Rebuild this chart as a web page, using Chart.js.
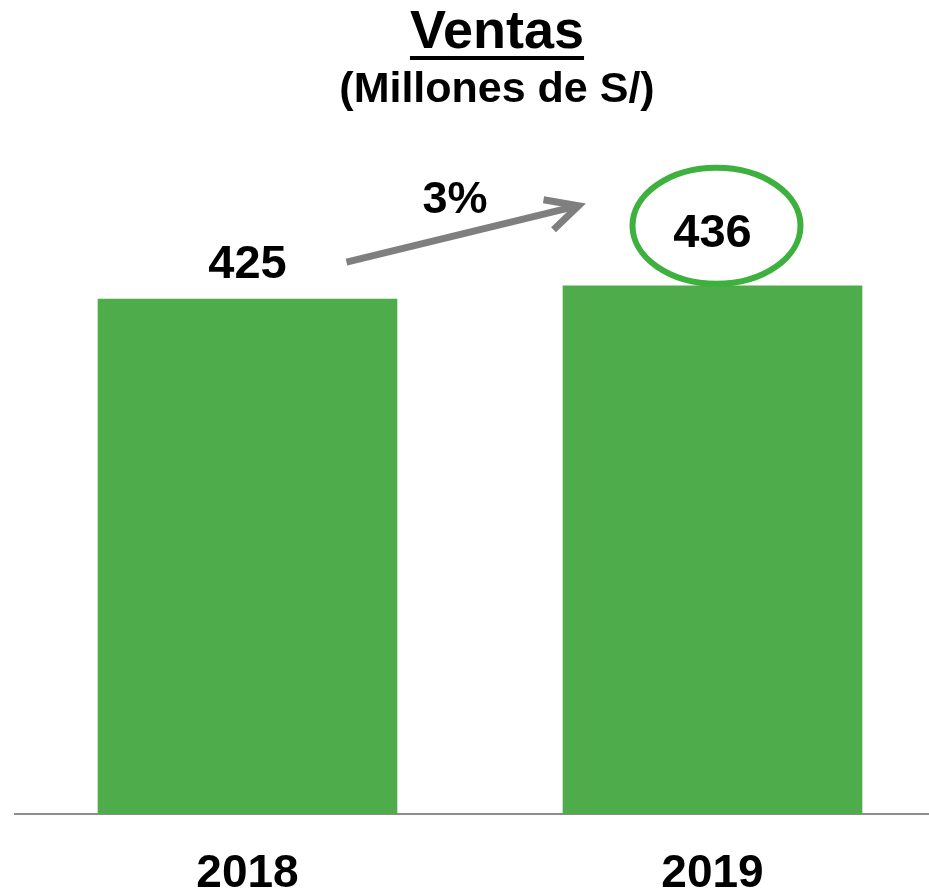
<!DOCTYPE html>
<html lang="es">
<head>
<meta charset="utf-8">
<title>Ventas</title>
<script src="https://cdn.jsdelivr.net/npm/chart.js@4"></script>
<style>
  html, body { margin: 0; padding: 0; background: #fff; overflow: hidden; }
  canvas { display: block; }
</style>
</head>
<body>
<canvas id="ventas" width="946" height="894"></canvas>
<script>
const years = ["2018", "2019"];
const sales = [425, 436];
const growthLabel = "3%";
const titleText = "Ventas";
const subtitleText = "(Millones de S/)";

const FONT = "'Liberation Sans', Arial, sans-serif";
const barGreen = "#4EAC4A";
const ringGreen = "#3DB03D";
const arrowGray = "#7F7F7F";

// title, value labels, growth arrow and the ring around the last value
const decorations = {
  id: "decorations",
  afterDatasetsDraw(chart) {
    const ctx = chart.ctx;
    const bars = chart.getDatasetMeta(0).data;
    ctx.save();
    ctx.fillStyle = "#000";
    ctx.textAlign = "center";
    ctx.textBaseline = "alphabetic";

    // title + underline
    ctx.font = "bold 54px " + FONT;
    ctx.fillText(titleText, 497, 48);
    const tw = ctx.measureText(titleText).width;
    ctx.fillRect(497 - tw / 2, 56, tw, 4);

    ctx.font = "bold 43px " + FONT;
    ctx.fillText(subtitleText, 497, 102);

    // value labels above bars
    ctx.font = "bold 47px " + FONT;
    const lift = [21, 39];
    bars.forEach((bar, i) => {
      ctx.fillText(String(sales[i]), bar.x, bar.y - lift[i]);
    });

    // ring around the latest value
    const last = bars[bars.length - 1];
    ctx.strokeStyle = ringGreen;
    ctx.lineWidth = 6;
    ctx.beginPath();
    ctx.ellipse(last.x + 4, last.y - 60, 84, 58, 0, 0, Math.PI * 2);
    ctx.stroke();

    // growth arrow
    const first = bars[0];
    const x0 = first.x + 99, y0 = first.y - 37;
    const x1 = last.x - 134, y1 = last.y - 80;
    ctx.strokeStyle = arrowGray;
    ctx.lineWidth = 7;
    ctx.lineCap = "butt";
    ctx.beginPath();
    ctx.moveTo(x0, y0);
    ctx.lineTo(x1 - 4, y1 + 1);
    ctx.stroke();
    ctx.lineJoin = "miter";
    ctx.beginPath();
    ctx.moveTo(x1 - 35, y1 - 6);
    ctx.lineTo(x1, y1);
    ctx.lineTo(x1 - 25, y1 + 24);
    ctx.stroke();

    ctx.fillStyle = "#000";
    ctx.font = "bold 45px " + FONT;
    ctx.fillText(growthLabel, 455, 213);
    ctx.restore();
  }
};

new Chart(document.getElementById("ventas"), {
  type: "bar",
  data: {
    labels: years,
    datasets: [{
      data: sales,
      backgroundColor: barGreen,
      borderWidth: 0,
      barThickness: 299
    }]
  },
  options: {
    responsive: false,
    animation: false,
    layout: { padding: { top: 87, left: 15, right: 1, bottom: 0 } },
    plugins: {
      legend: { display: false },
      tooltip: { enabled: false }
    },
    scales: {
      x: {
        grid: { display: false },
        border: { display: true, color: "#8C8C8C", width: 2 },
        ticks: {
          color: "#000",
          font: { family: FONT, size: 46, weight: "bold" },
          padding: 25
        },
        afterFit(scale) { scale.height = 80; }
      },
      y: {
        display: false,
        min: 0,
        max: 600
      }
    }
  },
  plugins: [decorations]
});
</script>
</body>
</html>
